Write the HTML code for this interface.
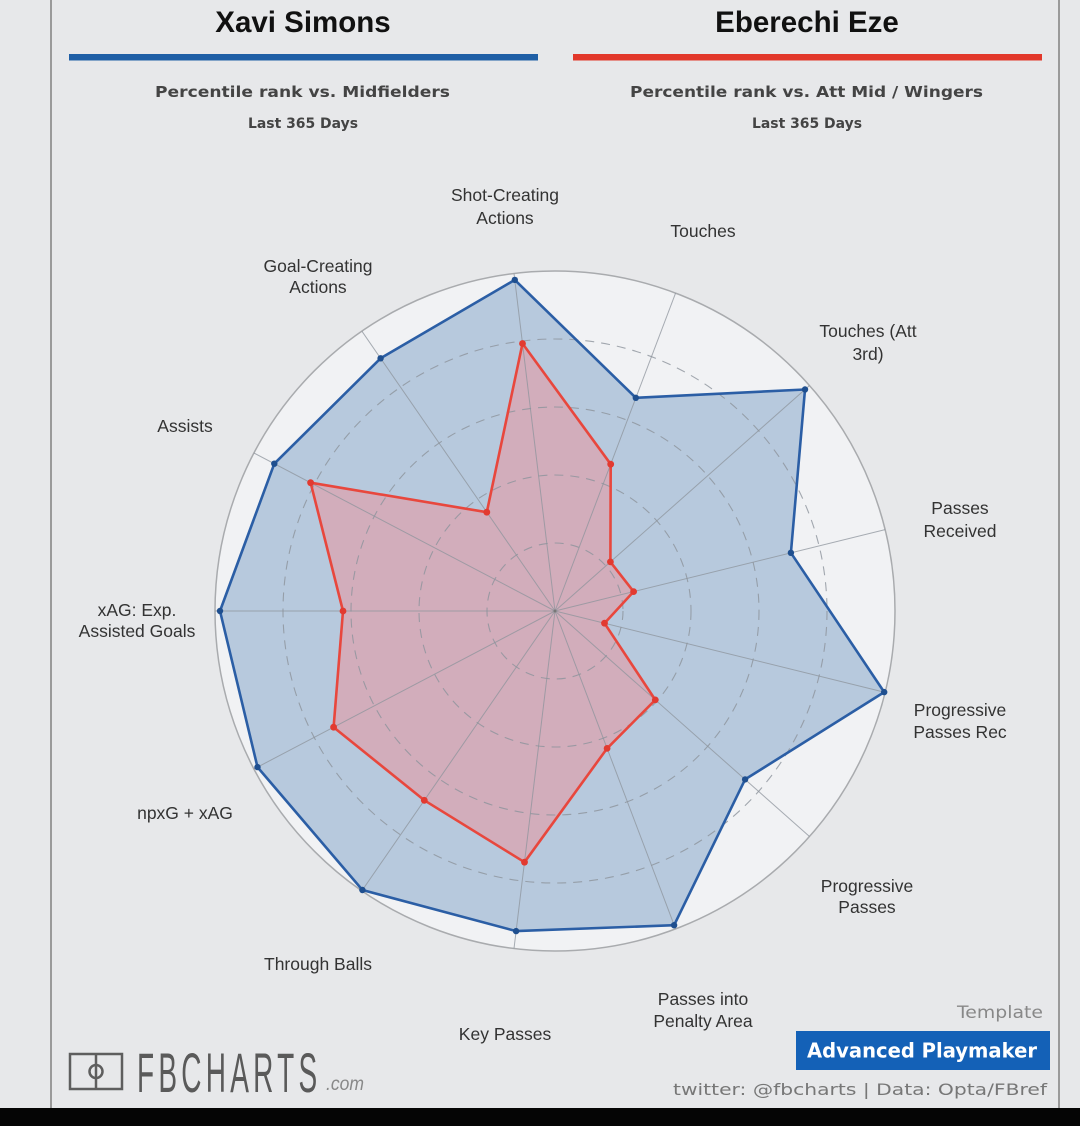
<!DOCTYPE html>
<html><head><meta charset="utf-8"><style>
html,body{margin:0;padding:0;background:#e7e8ea;}
svg{display:block;}
</style></head><body>
<svg width="1080" height="1126" viewBox="0 0 1080 1126" xmlns="http://www.w3.org/2000/svg">
<rect x="0" y="0" width="1080" height="1126" fill="#e7e8ea"/>
<line x1="51" y1="0" x2="51" y2="1108" stroke="#9a9a9a" stroke-width="2"/>
<line x1="1059" y1="0" x2="1059" y2="1108" stroke="#9a9a9a" stroke-width="2"/>

<!-- Titles -->
<text x="303" y="32" text-anchor="middle" font-family="Liberation Sans, Arial, sans-serif" font-weight="bold" font-size="29.5" fill="#111">Xavi Simons</text>
<text x="807" y="32" text-anchor="middle" font-family="Liberation Sans, Arial, sans-serif" font-weight="bold" font-size="29.5" fill="#111">Eberechi Eze</text>
<rect x="69" y="54" width="469" height="6.5" fill="#1f5fa6"/>
<rect x="573" y="54" width="469" height="6.5" fill="#e2382b"/>

<text x="155" y="97" textLength="295" lengthAdjust="spacingAndGlyphs" font-family="DejaVu Sans, Verdana, sans-serif" font-weight="bold" font-size="15.5" fill="#444">Percentile rank vs. Midfielders</text>
<text x="248" y="128" textLength="110" lengthAdjust="spacingAndGlyphs" font-family="DejaVu Sans, Verdana, sans-serif" font-weight="bold" font-size="14" fill="#444">Last 365 Days</text>
<text x="630" y="97" textLength="353" lengthAdjust="spacingAndGlyphs" font-family="DejaVu Sans, Verdana, sans-serif" font-weight="bold" font-size="15.5" fill="#444">Percentile rank vs. Att Mid / Wingers</text>
<text x="752" y="128" textLength="110" lengthAdjust="spacingAndGlyphs" font-family="DejaVu Sans, Verdana, sans-serif" font-weight="bold" font-size="14" fill="#444">Last 365 Days</text>

<!-- radar background -->
<circle cx="555" cy="611" r="340" fill="#f1f2f4"/>

<!-- blue polygon fill -->
<polygon points="514.8,279.9 635.8,397.8 805.0,389.5 790.9,552.8 884.2,692.1 745.1,779.4 674.1,925.2 516.1,931.1 362.4,890.0 257.5,767.1 220,611 274.3,463.7 380.6,358.3" fill="#b7c9dd"/>
<!-- red polygon fill -->
<polygon points="522.5,343.5 610.7,464.2 610.4,561.9 633.6,591.6 604.5,623.2 655.3,699.9 607.1,748.4 524.5,862.2 424.3,800.3 333.6,727.2 343,611 310.6,482.7 486.8,512.2" fill="#d2adbb"/>

<!-- grid -->
<g fill="none" stroke="#8d949c" stroke-width="1.1" stroke-dasharray="9 7" opacity="0.8">
<circle cx="555" cy="611" r="68"/>
<circle cx="555" cy="611" r="136"/>
<circle cx="555" cy="611" r="204"/>
<circle cx="555" cy="611" r="272"/>
</g>
<circle cx="555" cy="611" r="340" fill="none" stroke="#a9abae" stroke-width="1.5"/>
<g stroke="#8d949c" stroke-width="1" opacity="0.75">
<line x1="555" y1="611" x2="514.0" y2="273.5"/>
<line x1="555" y1="611" x2="675.6" y2="293.1"/>
<line x1="555" y1="611" x2="809.5" y2="385.5"/>
<line x1="555" y1="611" x2="885.1" y2="529.6"/>
<line x1="555" y1="611" x2="885.1" y2="692.4"/>
<line x1="555" y1="611" x2="809.5" y2="836.5"/>
<line x1="555" y1="611" x2="675.6" y2="928.9"/>
<line x1="555" y1="611" x2="514.0" y2="948.5"/>
<line x1="555" y1="611" x2="361.9" y2="890.8"/>
<line x1="555" y1="611" x2="253.9" y2="769.0"/>
<line x1="555" y1="611" x2="215" y2="611"/>
<line x1="555" y1="611" x2="253.9" y2="453.0"/>
<line x1="555" y1="611" x2="361.9" y2="331.2"/>
</g>

<!-- outlines -->
<polygon points="514.8,279.9 635.8,397.8 805.0,389.5 790.9,552.8 884.2,692.1 745.1,779.4 674.1,925.2 516.1,931.1 362.4,890.0 257.5,767.1 220,611 274.3,463.7 380.6,358.3" fill="none" stroke="#2b5ea5" stroke-width="2.6" stroke-linejoin="round"/>
<polygon points="522.5,343.5 610.7,464.2 610.4,561.9 633.6,591.6 604.5,623.2 655.3,699.9 607.1,748.4 524.5,862.2 424.3,800.3 333.6,727.2 343,611 310.6,482.7 486.8,512.2" fill="none" stroke="#e8473d" stroke-width="2.6" stroke-linejoin="round"/>
<g fill="#1f4f8f">
<circle cx="514.8" cy="279.9" r="3.2"/><circle cx="635.8" cy="397.8" r="3.2"/><circle cx="805.0" cy="389.5" r="3.2"/><circle cx="790.9" cy="552.8" r="3.2"/><circle cx="884.2" cy="692.1" r="3.2"/><circle cx="745.1" cy="779.4" r="3.2"/><circle cx="674.1" cy="925.2" r="3.2"/><circle cx="516.1" cy="931.1" r="3.2"/><circle cx="362.4" cy="890.0" r="3.2"/><circle cx="257.5" cy="767.1" r="3.2"/><circle cx="220" cy="611" r="3.2"/><circle cx="274.3" cy="463.7" r="3.2"/><circle cx="380.6" cy="358.3" r="3.2"/>
</g>
<g fill="#e23a30">
<circle cx="522.5" cy="343.5" r="3.4"/><circle cx="610.7" cy="464.2" r="3.4"/><circle cx="610.4" cy="561.9" r="3.4"/><circle cx="633.6" cy="591.6" r="3.4"/><circle cx="604.5" cy="623.2" r="3.4"/><circle cx="655.3" cy="699.9" r="3.4"/><circle cx="607.1" cy="748.4" r="3.4"/><circle cx="524.5" cy="862.2" r="3.4"/><circle cx="424.3" cy="800.3" r="3.4"/><circle cx="333.6" cy="727.2" r="3.4"/><circle cx="343" cy="611" r="3.4"/><circle cx="310.6" cy="482.7" r="3.4"/><circle cx="486.8" cy="512.2" r="3.4"/>
</g>
<circle cx="555" cy="611" r="1.5" fill="#777"/>

<!-- labels -->
<g font-family="Liberation Sans, Arial, sans-serif" font-size="17.5" fill="#333" text-anchor="middle">
<text x="505" y="201">Shot-Creating</text>
<text x="505" y="224">Actions</text>
<text x="703" y="237">Touches</text>
<text x="868" y="337">Touches (Att</text>
<text x="868" y="360">3rd)</text>
<text x="960" y="514">Passes</text>
<text x="960" y="537">Received</text>
<text x="960" y="716">Progressive</text>
<text x="960" y="738">Passes Rec</text>
<text x="867" y="892">Progressive</text>
<text x="867" y="913">Passes</text>
<text x="703" y="1005">Passes into</text>
<text x="703" y="1027">Penalty Area</text>
<text x="505" y="1040">Key Passes</text>
<text x="318" y="970">Through Balls</text>
<text x="185" y="819">npxG + xAG</text>
<text x="137" y="616">xAG: Exp.</text>
<text x="137" y="637">Assisted Goals</text>
<text x="185" y="432">Assists</text>
<text x="318" y="272">Goal-Creating</text>
<text x="318" y="293">Actions</text>
</g>

<!-- FBCHARTS logo -->
<g fill="none" stroke="#5e5e5e" stroke-width="2.5">
<rect x="70" y="1054" width="52" height="35"/>
<line x1="96" y1="1054" x2="96" y2="1089"/>
<circle cx="96" cy="1071.5" r="6.5"/>
</g>
<text transform="translate(137,1092) scale(0.5,1)" x="0" y="0" letter-spacing="8.5" font-family="Liberation Sans, Arial, sans-serif" font-size="56" fill="#5a5a5a">FBCHARTS</text>
<text x="326" y="1090" textLength="38" lengthAdjust="spacingAndGlyphs" font-family="Liberation Sans, Arial, sans-serif" font-style="italic" font-size="19" fill="#888">.com</text>

<!-- template -->
<text x="957" y="1018" textLength="86" lengthAdjust="spacingAndGlyphs" font-family="DejaVu Sans, Verdana, sans-serif" font-size="17" fill="#888">Template</text>
<rect x="796" y="1031" width="254" height="39" fill="#1461b7"/>
<text x="807" y="1057.5" textLength="230" lengthAdjust="spacingAndGlyphs" font-family="DejaVu Sans, Verdana, sans-serif" font-weight="bold" font-size="20" fill="#ffffff">Advanced Playmaker</text>
<text x="673" y="1095" textLength="374" lengthAdjust="spacingAndGlyphs" font-family="DejaVu Sans, Verdana, sans-serif" font-size="16" fill="#777">twitter: @fbcharts | Data: Opta/FBref</text>

<!-- bottom black bar -->
<rect x="0" y="1108" width="1080" height="18" fill="#050505"/>
</svg>
</body></html>
